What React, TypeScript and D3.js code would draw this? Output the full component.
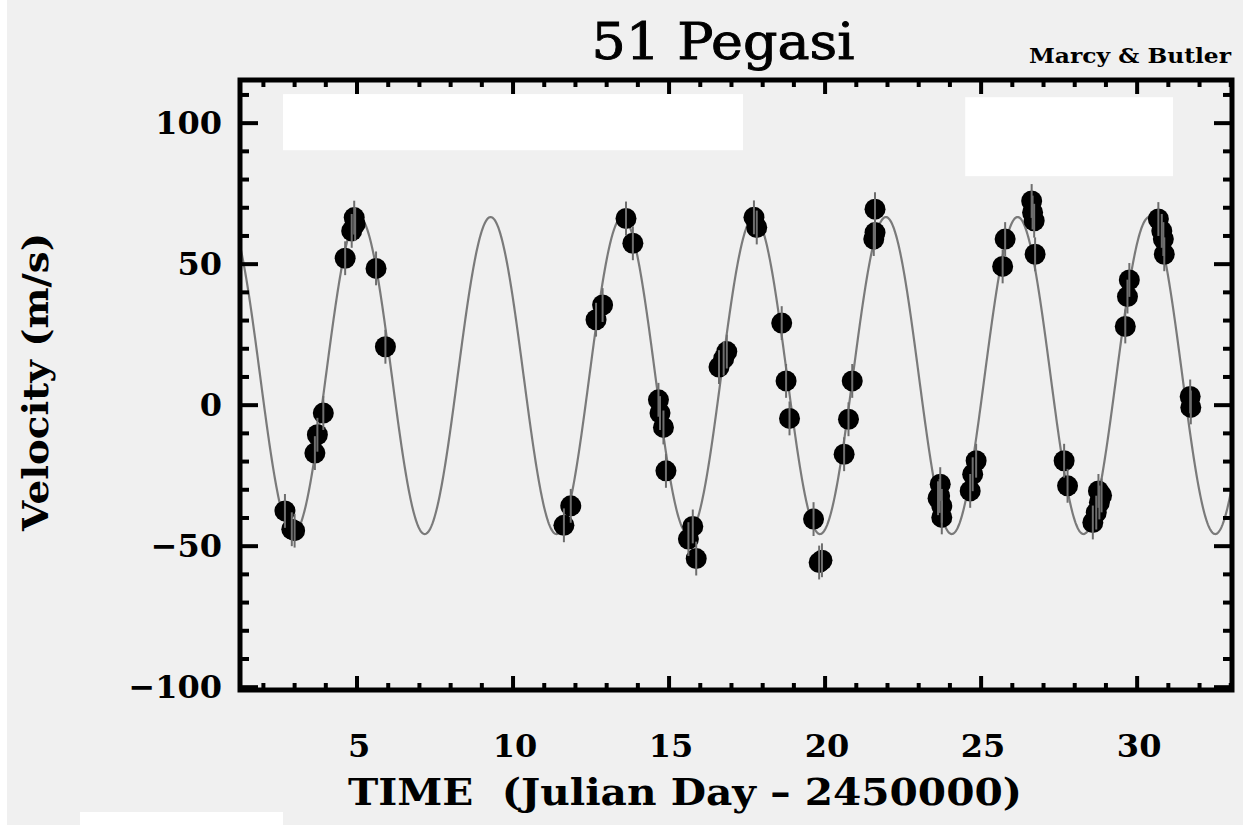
import React from 'react';
import * as d3 from 'd3';

// observation times (JD - 2450000) and radial velocities (m/s)
const obsTime = [
  2.69, 2.91, 3.0, 3.65, 3.73, 3.92, 4.62, 4.83, 4.91, 4.94, 5.61, 5.91,
  11.63, 11.85, 12.66, 12.87, 13.62, 13.84, 14.66, 14.71, 14.82, 14.9,
  15.62, 15.76, 15.87, 16.6, 16.75, 16.85, 17.72, 17.81, 18.61, 18.75,
  18.86, 19.63, 19.81, 19.9, 20.61, 20.75, 20.87, 21.6, 21.6, 21.56,
  23.62, 23.67, 23.69, 23.74, 23.74, 24.65, 24.73, 24.84, 25.69, 25.77,
  26.62, 26.65, 26.7, 26.73, 27.66, 27.77, 28.58, 28.69, 28.76, 28.79,
  28.86, 29.62, 29.69, 29.75, 30.68, 30.79, 30.84, 30.87, 31.7, 31.72,
];
const obsVelocity = [
  -37.5, -44, -44.5, -17, -10.5, -2.8, 52.1, 61.8, 66.5, 64.2, 48.5, 20.7,
  -42.6, -35.7, 30.3, 35.5, 66.2, 57.4, 1.9, -2.8, -7.9, -23.3,
  -47.5, -43, -54.4, 13.5, 16.5, 19, 66.6, 63, 29.1, 8.6,
  -4.7, -40.4, -55.8, -55, -17.4, -5, 8.6, 69.5, 61.2, 58.9,
  -33, -32.2, -28, -35.7, -39.8, -30.4, -24.5, -19.7, 49.2, 58.9,
  72.4, 68.3, 65.4, 53.5, -19.7, -28.6, -41.6, -38.1, -30.4, -34.5,
  -32, 27.9, 38.5, 44.4, 66, 61.8, 58.9, 53.5, 3.1, -0.8,
];
const errBar = 6; // m/s, approx half-length of the error bars

// orbit fit (circular orbit)
const PERIOD = 4.222;
const K_AMP = 56.2;
const GAMMA = 10.5;
const T_PEAK = 5.06;

const xTicks = [5, 10, 15, 20, 25, 30];
const yTicks = [100, 50, 0, -50, -100];

// erased legend boxes inside the frame (data units)
const blankBoxes = [
  { x0: 2.63, x1: 17.37, y0: 90.4, y1: 110.3 },
  { x0: 24.49, x1: 31.15, y0: 81.2, y1: 109.2 },
];

const W = 1243;
const H = 825;
const FONT = '"DejaVu Serif", "Liberation Serif", serif';

export default function App() {
  const left = 240, right = 1232, top = 80, bottom = 690;

  const x = d3.scaleLinear().domain([1.25, 33.04]).range([left, right]);
  const y = d3.scaleLinear().domain([-101, 115.3]).range([bottom, top]);

  const model = (t: number) =>
    GAMMA + K_AMP * Math.cos((2 * Math.PI * (t - T_PEAK)) / PERIOD);

  const curveT = d3.range(1.25, 33.05, 0.02);
  const line = d3
    .line<number>()
    .x((t) => x(t))
    .y((t) => y(model(t)));

  const xMinor = d3.range(2, 34, 1);
  const yMinor = d3.range(-100, 115, 10);

  const points = obsTime.map((t, i) => ({ t, v: obsVelocity[i] }));

  return (
    <svg
      width={W}
      height={H}
      style={{ position: 'absolute', left: 0, top: 0 }}
      fontFamily={FONT}
    >
      <defs>
        <clipPath id="plotClip">
          <rect x={left} y={top} width={right - left} height={bottom - top} />
        </clipPath>
      </defs>
      <rect x={0} y={0} width={W} height={H} fill="#f0f0f0" />
      <rect x={0} y={0} width={7} height={H} fill="#ffffff" />
      <rect x={80} y={812} width={203} height={13} fill="#ffffff" />

      {blankBoxes.map((b, i) => (
        <rect
          key={i}
          x={x(b.x0)}
          y={y(b.y1)}
          width={x(b.x1) - x(b.x0)}
          height={y(b.y0) - y(b.y1)}
          fill="#ffffff"
        />
      ))}

      {/* fitted curve */}
      <g clipPath="url(#plotClip)">
        <path d={line(curveT) || ''} fill="none" stroke="#7a7a7a" strokeWidth={2.2} />
      </g>

      {/* observations */}
      <g>
        {points.map((p, i) => (
          <circle key={'c' + i} cx={x(p.t)} cy={y(p.v)} r={10.5} fill="#000" />
        ))}
        {points.map((p, i) => (
          <line
            key={'e' + i}
            x1={x(p.t)}
            x2={x(p.t)}
            y1={y(p.v - errBar)}
            y2={y(p.v + errBar)}
            stroke="#6e6e6e"
            strokeWidth={2}
          />
        ))}
      </g>

      {/* ticks */}
      <g stroke="#000" strokeWidth={4}>
        {xMinor.map((t) => {
          const len = t % 5 === 0 ? 14 : 7;
          return (
            <g key={'xt' + t}>
              <line x1={x(t)} x2={x(t)} y1={top} y2={top + len} />
              <line x1={x(t)} x2={x(t)} y1={bottom} y2={bottom - len} />
            </g>
          );
        })}
        {yMinor.map((v) => {
          const len = v % 50 === 0 ? 18 : 9;
          return (
            <g key={'yt' + v}>
              <line x1={left} x2={left + len} y1={y(v)} y2={y(v)} />
              <line x1={right} x2={right - len} y1={y(v)} y2={y(v)} />
            </g>
          );
        })}
      </g>

      {/* frame */}
      <rect
        x={left}
        y={top}
        width={right - left}
        height={bottom - top}
        fill="none"
        stroke="#000"
        strokeWidth={5}
      />

      {/* tick labels */}
      <g fontSize={32} fontWeight="bold" fill="#000">
        {yTicks.map((v) => (
          <text key={'yl' + v} x={222} y={y(v)} textAnchor="end" dominantBaseline="central">
            {v < 0 ? '\u2212' + Math.abs(v) : v}
          </text>
        ))}
        {xTicks.map((t) => (
          <text key={'xl' + t} x={x(t) + 2} y={757} textAnchor="middle">
            {t}
          </text>
        ))}
      </g>

      {/* titles */}
      <text
        x={723}
        y={59}
        textAnchor="middle"
        fontSize={50}
        stroke="#000"
        strokeWidth={0.9}
        textLength={263}
        lengthAdjust="spacingAndGlyphs"
      >
        51 Pegasi
      </text>
      <text x={1130} y={63} textAnchor="middle" fontSize={21} fontWeight="bold" textLength={202} lengthAdjust="spacingAndGlyphs">
        Marcy &amp; Butler
      </text>
      <text
        x={685}
        y={805}
        textAnchor="middle"
        fontSize={37}
        fontWeight="bold"
        textLength={674}
        lengthAdjust="spacingAndGlyphs"
        style={{ whiteSpace: 'pre' }}
      >
        {'TIME  (Julian Day \u2013 2450000)'}
      </text>
      <text
        transform="translate(48,382) rotate(-90)"
        textAnchor="middle"
        fontSize={36}
        fontWeight="bold"
        textLength={298}
        lengthAdjust="spacingAndGlyphs"
      >
        Velocity (m/s)
      </text>
    </svg>
  );
}
